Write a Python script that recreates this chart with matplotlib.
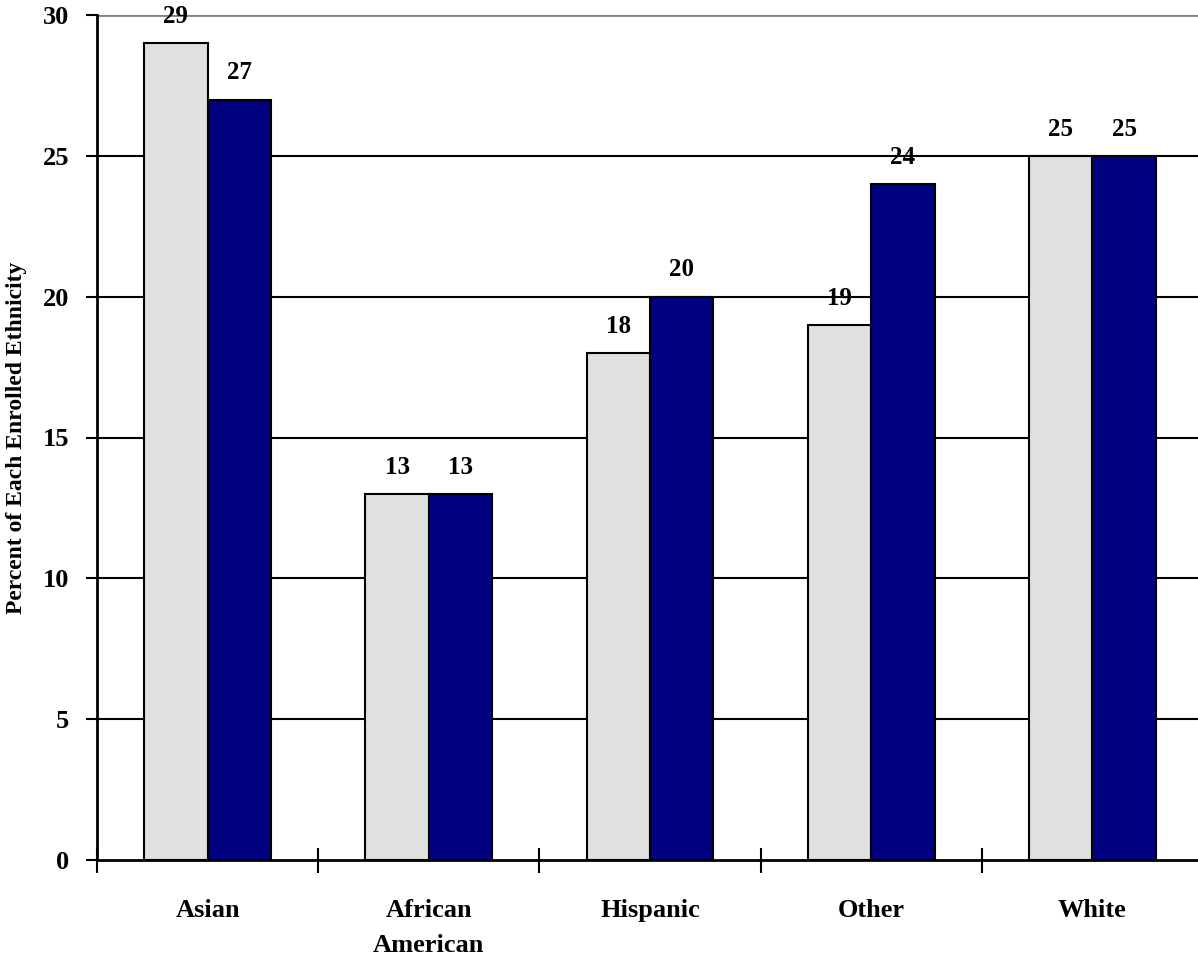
import matplotlib
matplotlib.use("Agg")
import matplotlib.pyplot as plt
import numpy as np

plt.rcParams['font.family'] = ['Liberation Serif', 'DejaVu Serif']
plt.rcParams['font.weight'] = 'bold'

categories = ["Asian", "African\nAmerican", "Hispanic", "Other", "White"]
series_a = [29, 13, 18, 19, 25]
series_b = [27, 13, 20, 24, 25]

fig = plt.figure(figsize=(11.98, 9.57), dpi=100)
ax = fig.add_axes([97/1198, 1 - 860/957, 1106/1198, 845/957])

x = np.arange(len(categories))
w = 0.287
ax.bar(x - w/2, series_a, w, color='#e0e0e0', edgecolor='black', linewidth=1.5, zorder=3)
ax.bar(x + w/2, series_b, w, color='#000080', edgecolor='black', linewidth=1.5, zorder=3)

for xi, v in zip(x - w/2, series_a):
    ax.annotate(str(v), (xi, v), xytext=(0, 11), textcoords='offset points',
                ha='center', va='bottom', fontsize=18, fontweight='bold', zorder=4)
for xi, v in zip(x + w/2, series_b):
    ax.annotate(str(v), (xi, v), xytext=(0, 11), textcoords='offset points',
                ha='center', va='bottom', fontsize=18, fontweight='bold', zorder=4)

ax.set_xlim(-0.5, len(categories) - 0.5)
ax.set_ylim(0, 30)
ax.set_yticks(range(0, 31, 5))
ax.set_yticklabels([str(v) for v in range(0, 31, 5)], fontsize=19, fontweight='bold')
for v in range(5, 30, 5):
    ax.axhline(v, color='black', linewidth=1.5, zorder=1)
ax.axhline(30, color='#808080', linewidth=2, zorder=1)

ax.set_xticks(np.arange(-0.5, len(categories), 1))
ax.set_xticklabels([])
ax.set_xticks(x, minor=True)
ax.set_xticklabels(categories, minor=True, fontsize=19, fontweight='bold', linespacing=1.7)
ax.tick_params(axis='x', which='major', direction='inout', length=18, width=1.5)
ax.tick_params(axis='x', which='minor', length=0, pad=28)
ax.tick_params(axis='y', direction='out', length=8, width=1.5, pad=12)

for s in ['top', 'right']:
    ax.spines[s].set_visible(False)
ax.spines['left'].set_linewidth(2)
ax.spines['bottom'].set_linewidth(2)

ax.set_ylabel("Percent of Each Enrolled Ethnicity", fontsize=17, fontweight='bold')
ax.yaxis.set_label_coords(-0.063, 0.5)

fig.savefig("out.png", dpi=100)
